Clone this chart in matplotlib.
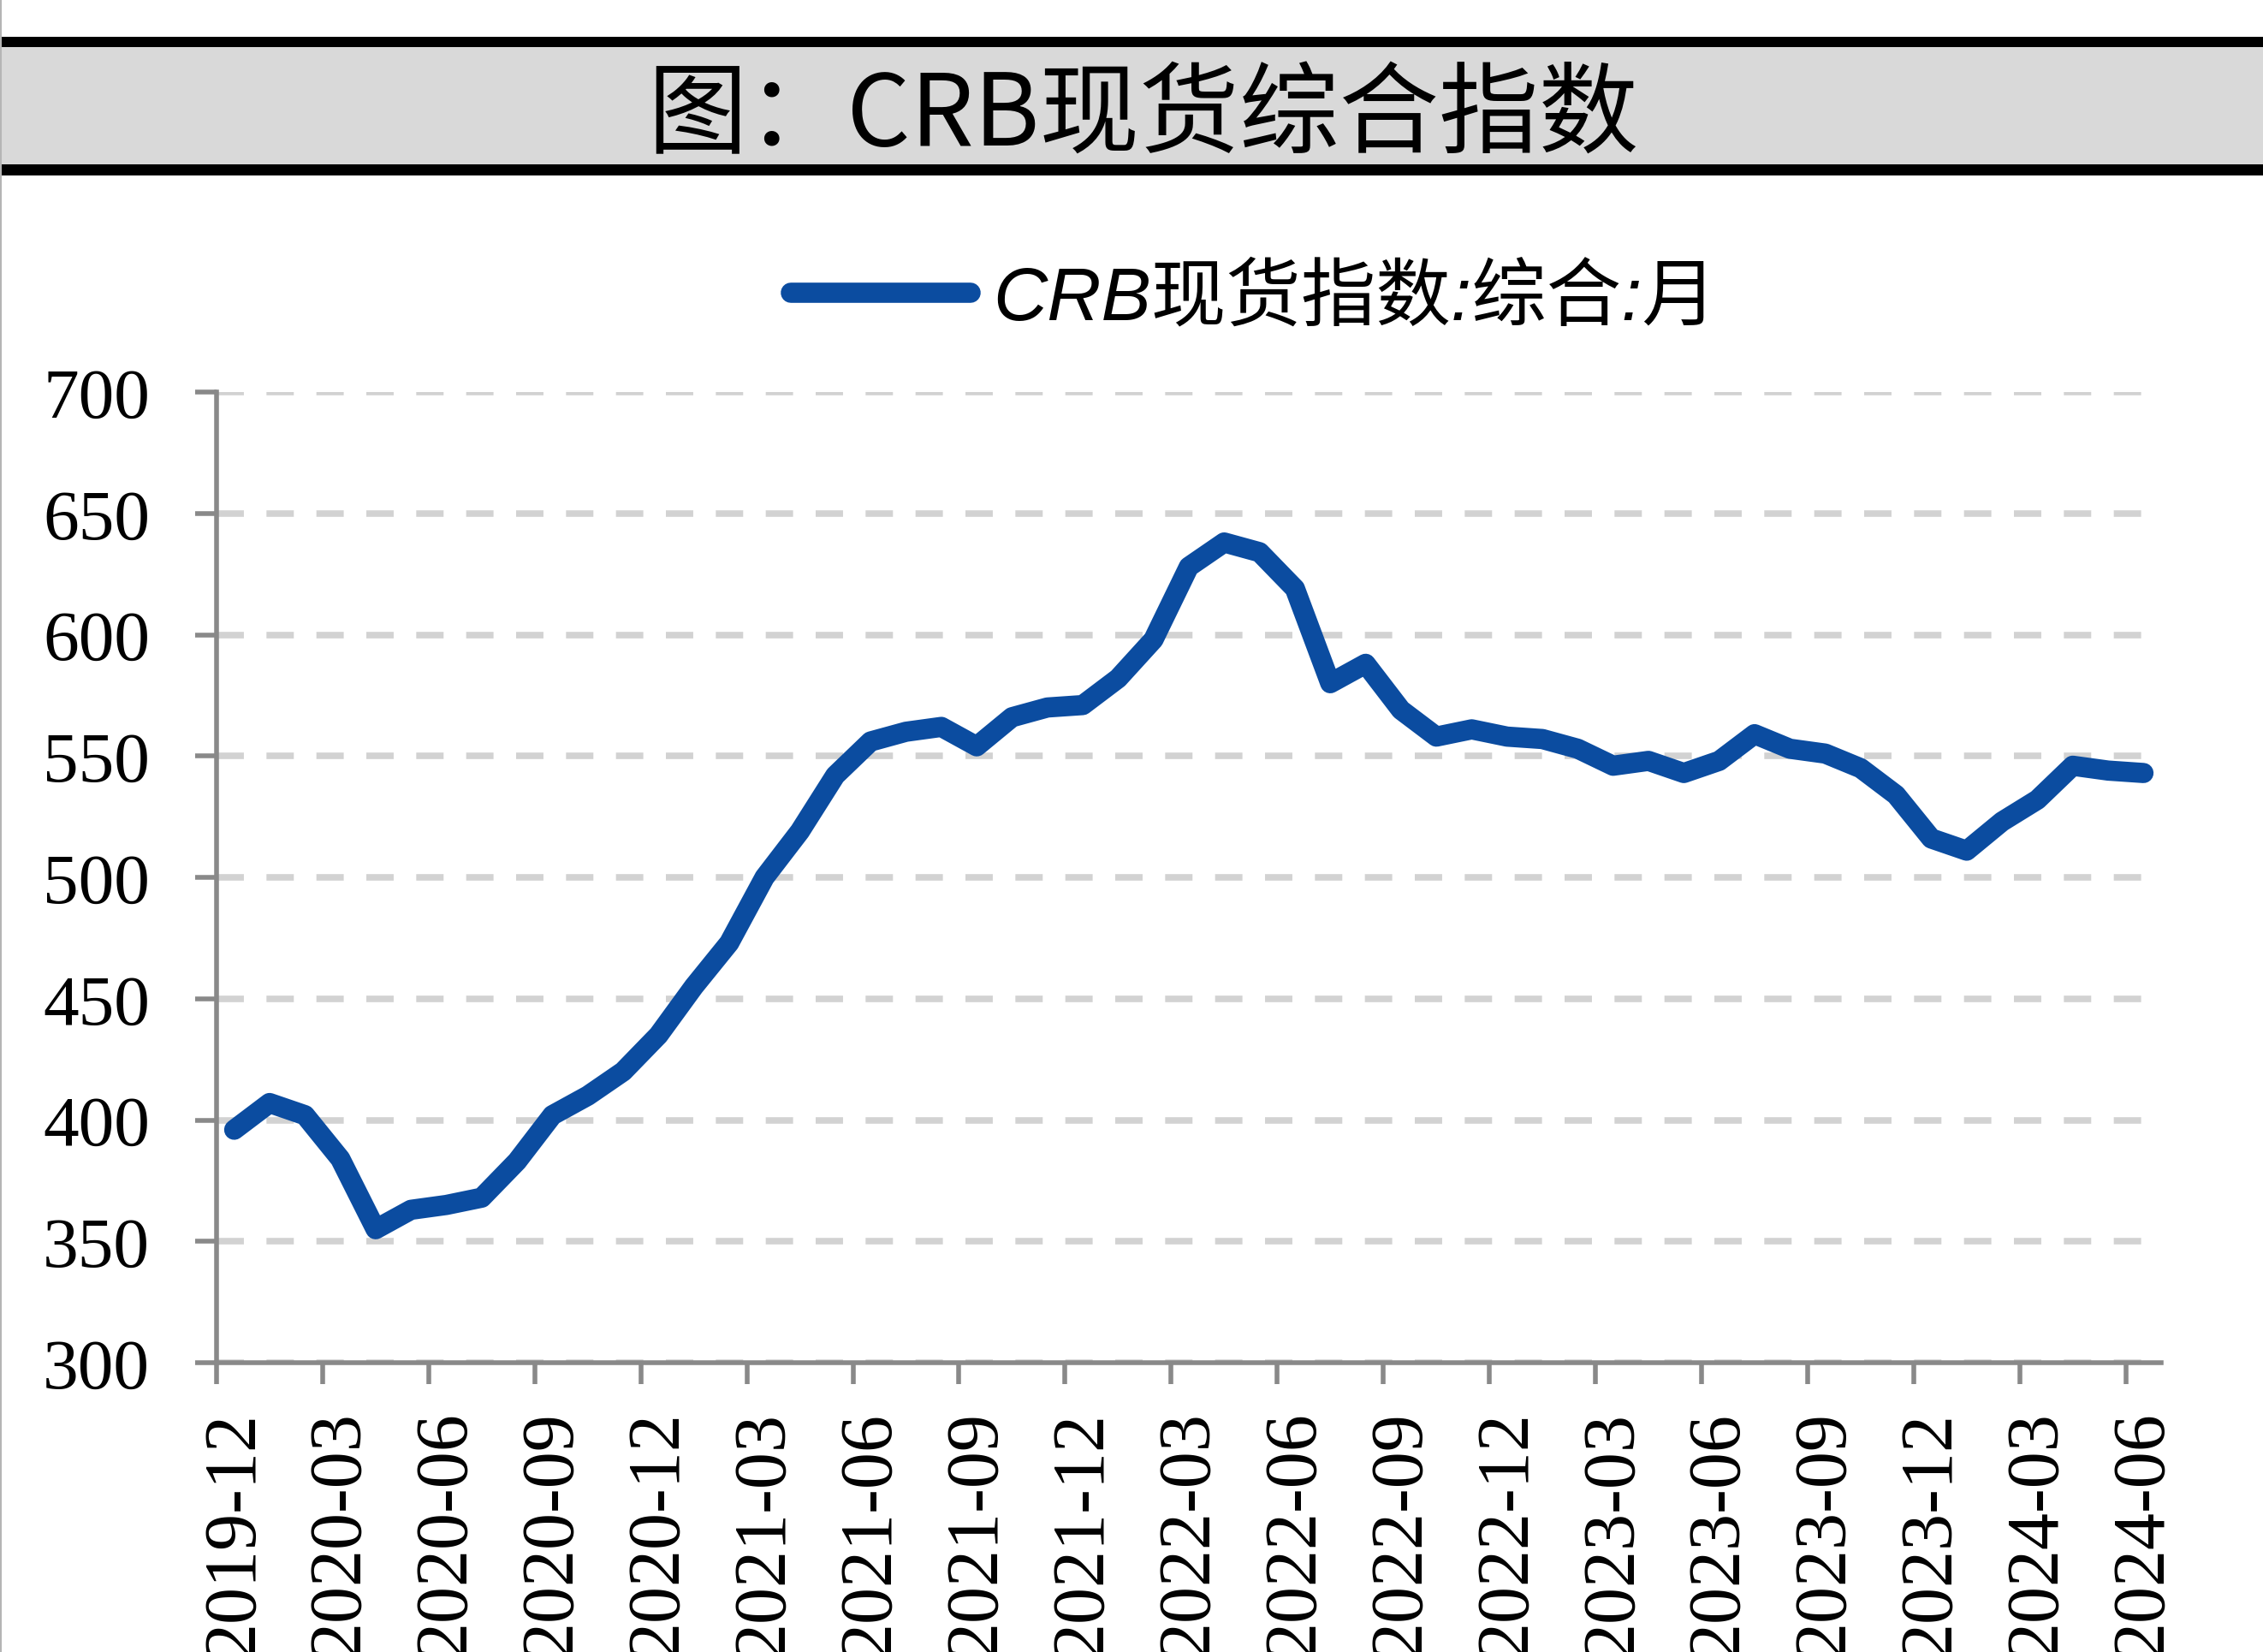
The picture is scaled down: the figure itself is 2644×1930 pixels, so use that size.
import matplotlib
matplotlib.use("Agg")
import matplotlib.pyplot as plt
from matplotlib.patches import Rectangle
from matplotlib.lines import Line2D
from matplotlib.font_manager import FontProperties
import numpy as np
import pandas as pd

plt.rcParams['lines.scale_dashes'] = False
plt.rcParams['font.family'] = ['Liberation Serif', 'Noto Sans CJK SC']

# ---- data ----
months = [str(p) for p in pd.period_range('2019-12', '2024-06', freq='M')]
crb_values = [396, 407, 402, 384, 355, 363, 365, 368, 383, 402, 410, 420, 435,
              455, 473, 500, 519, 542, 556, 560, 562, 554, 566, 570, 571,
              582, 598, 628, 638, 634, 619, 580, 588, 569, 558, 561, 558,
              557, 553, 546, 548, 543, 548, 559, 553, 551, 545, 534, 516,
              511, 523, 532, 546, 544, 543]
tick_labels = months[::3]
y_ticks = [300, 350, 400, 450, 500, 550, 600, 650, 700]
title_text = "图：CRB现货综合指数"
legend_text = "CRB现货指数:综合:月"

line_color = '#0B4CA0'
axis_color = '#898989'
grid_color = '#D2D2D2'

W, H = 2644, 1931
fig = plt.figure(figsize=(W / 100, H / 100), dpi=100)

# title band
def fy(px):
    return 1 - px / H

fig.add_artist(Rectangle((0, fy(193)), 1, (193 - 56) / H, transform=fig.transFigure,
                         facecolor='#D9D9D9', edgecolor='none'))
fig.add_artist(Rectangle((0, fy(56)), 1, 12 / H, transform=fig.transFigure,
                         facecolor='black', edgecolor='none'))
fig.add_artist(Rectangle((0, fy(206)), 1, 13 / H, transform=fig.transFigure,
                         facecolor='black', edgecolor='none'))
fig.add_artist(Line2D([1 / W, 1 / W], [0, 1], transform=fig.transFigure,
                      color='#B5B5B5', lw=1.5))
fig.text(0.505, fy(138), title_text, ha='center', va='center', fontsize=84,
         family=['Noto Sans CJK SC', 'DejaVu Sans'], color='black')

# axes
left, right, top, bottom = 253, 2525, 459, 1593
ax = fig.add_axes([left / W, 1 - bottom / H, (right - left) / W, (bottom - top) / H])
x = np.arange(len(months))
line, = ax.plot(x, crb_values, color=line_color, lw=17, solid_capstyle='round',
                solid_joinstyle='round', clip_on=False, zorder=3)

ax.set_xlim(-0.5, len(months) - 0.5)
ax.set_ylim(300, 700)

for s in ['top', 'right']:
    ax.spines[s].set_visible(False)
for s in ['left', 'bottom']:
    ax.spines[s].set_color(axis_color)
    ax.spines[s].set_linewidth(4)

ax.set_yticks(y_ticks)
ax.set_yticklabels([str(v) for v in y_ticks])
ax.tick_params(axis='y', length=18, width=4, color=axis_color, pad=38,
               labelsize=60, labelcolor='black')
for lab in ax.get_yticklabels():
    lab.set_family('Liberation Serif')

ax.set_xticks(np.arange(-0.5, len(months) - 0.5, 3))
ax.set_xticklabels([])
ax.tick_params(axis='x', which='major', length=18, width=4, color=axis_color)
ax.set_xticks(np.arange(0, len(months), 3), minor=True)
ax.set_xticklabels(tick_labels, minor=True, rotation=90, fontsize=62,
                   family='Liberation Serif')
ax.tick_params(axis='x', which='minor', length=0, pad=40)

ax.set_axisbelow(True)
ax.yaxis.grid(True, color=grid_color, lw=5.5, linestyle=(0, (23, 19)))
ax.xaxis.grid(False)

fp = FontProperties(family=['Liberation Sans', 'Noto Sans CJK SC'], style='italic', size=63)
leg = ax.legend([line], [legend_text], loc='center', bbox_to_anchor=(0.554, fy(351)),
                bbox_transform=fig.transFigure, frameon=False, prop=fp,
                handlelength=2.4, handletextpad=0.3)

fig.savefig('out.png', dpi=100)
